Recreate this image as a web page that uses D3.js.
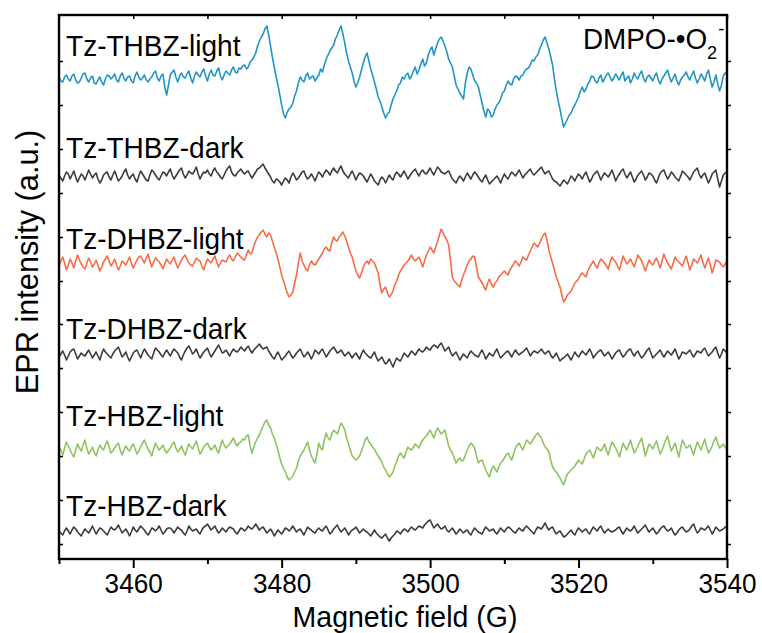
<!DOCTYPE html>
<html>
<head>
<meta charset="utf-8">
<script src="https://cdn.jsdelivr.net/npm/d3@7"></script>
<style>
  html, body { margin: 0; padding: 0; background: #fff; }
  svg { display: block; }
  text { font-family: "Liberation Sans", Arial, sans-serif; fill: #000; }
</style>
</head>
<body>
<div id="chart"></div>
<script>
// ---------------- DATA ----------------
const fieldStart = 3450, fieldStep = 0.25, nPoints = 361;
const xMajorTicks = [3460, 3480, 3500, 3520, 3540];
const xMinorTicks = [3450, 3470, 3490, 3510, 3530];
const xTopTicks = [3450, 3460, 3470, 3480, 3490, 3500, 3510, 3520, 3530, 3540];
const yTicks = [15, 59, 103, 147, 191, 235, 278, 322, 366, 410, 454, 498];

const seriesNames = ["Tz-THBZ-light", "Tz-THBZ-dark", "Tz-DHBZ-light", "Tz-DHBZ-dark", "Tz-HBZ-light", "Tz-HBZ-dark"];
const seriesColors = ["#2196c4", "#3c3c3c", "#f76c45", "#3c3c3c", "#8dc462", "#3c3c3c"];
const seriesOffsets = [480, 382, 294, 204, 107, 27];

const thbzLight = [
  2,-2,-3,2,4,0,-2,3,5,-1,-4,-3,1,5,6,0,-3,1,3,-4,
  -5,-1,2,-3,-6,0,4,3,0,2,5,-1,-3,3,6,1,-2,2,3,-2,
  -4,3,7,2,-1,1,4,-1,-3,0,2,6,8,1,-2,3,5,-8,-16,-6,
  4,7,9,2,-3,3,6,2,1,5,8,1,-4,3,7,4,2,7,10,3,
  -2,5,9,4,3,8,11,3,-1,4,8,6,4,9,12,7,6,11,10,13,
  14,10,12,17,19,22,26,33,38,42,45,50,53,44,33,22,12,2,-6,-16,
  -26,-35,-39,-33,-30,-28,-24,-17,-12,-4,2,-1,-3,3,6,0,2,3,-2,1,
  4,10,7,14,20,24,28,31,34,40,44,49,53,45,36,26,18,12,6,-2,
  -8,-4,2,9,16,22,26,18,10,4,-3,-10,-18,-22,-28,-34,-39,-35,-33,-26,
  -20,-16,-12,-6,-4,2,0,4,6,0,3,8,12,5,9,15,20,13,16,24,
  29,32,24,30,36,40,42,38,33,27,20,16,12,3,-6,-10,-14,-17,-20,-4,
  6,12,10,4,-2,-4,-8,-16,-24,-32,-38,-30,-32,-38,-36,-30,-26,-24,-20,-14,
  -12,-6,-2,-5,-6,0,3,2,-1,3,4,8,10,11,14,19,18,22,24,30,
  34,39,42,36,30,22,14,0,-12,-22,-30,-40,-48,-44,-40,-36,-34,-29,-26,-22,
  -18,-12,-8,-13,-10,-5,-2,3,2,-2,-4,1,4,-3,0,4,6,2,-2,1,
  5,2,-1,4,7,-2,1,3,-4,0,6,2,0,5,8,1,-3,2,4,1,
  -2,3,6,-1,-5,0,3,6,9,2,-3,1,5,-2,-6,-1,2,4,7,2,
  -1,4,8,1,-4,0,5,2,-2,5,9,0,-8,-3,4,-5,-12,-6,3,6,
  5
];
const thbzDark = [
  2,-1,-4,1,5,3,-2,2,6,0,-5,-1,3,1,-3,2,7,3,-1,2,
  4,-2,-6,-3,2,4,5,0,-3,2,6,1,-4,-2,1,5,8,2,-2,1,
  3,-2,-5,1,6,3,0,-3,-4,2,7,5,2,-1,-3,1,5,4,1,5,
  8,2,-2,1,4,7,9,3,-1,2,6,4,3,6,10,3,-2,2,5,4,
  7,3,1,6,9,5,3,0,-2,2,6,9,11,5,2,1,4,6,8,5,
  3,5,6,2,-1,2,5,8,9,11,13,9,6,3,0,-4,-6,-2,-3,-5,
  -8,-4,-1,-3,-6,0,4,1,-3,-1,2,5,6,1,-2,0,3,0,-4,1,
  5,3,0,4,7,5,2,6,9,6,4,8,11,6,3,1,-1,3,6,2,
  -3,1,4,3,1,-2,-5,-1,3,0,-4,-6,-8,-3,0,-2,-6,-2,2,-1,
  -3,2,5,3,0,3,6,2,-2,1,4,6,8,4,1,5,7,4,3,6,
  9,5,2,6,10,8,5,4,3,5,6,2,-2,-4,-6,-2,1,-1,-4,0,
  4,1,-2,2,5,3,0,-3,-5,-1,2,-3,-7,-5,-3,-1,1,-2,-6,-1,
  3,0,-2,2,5,3,1,4,7,3,-1,2,4,6,8,4,2,4,6,8,
  10,6,3,5,6,2,-2,-4,-5,-7,-9,-6,-3,-5,-7,-3,1,-1,-4,0,
  3,1,-2,2,5,0,-5,-2,2,4,6,2,-3,1,4,2,0,3,7,2,
  -4,0,3,6,8,3,-1,2,5,0,-5,-2,2,4,6,2,-3,0,4,3,
  1,-3,-6,-1,4,6,7,2,-2,1,5,3,0,-2,-4,1,6,4,2,0,
  -3,1,5,7,9,3,-1,2,4,-1,-6,-2,3,5,7,-2,-10,-4,2,4,
  5
];
const dhbzLight = [
  -2,4,8,2,-5,0,6,2,-3,4,10,5,1,-2,-4,2,7,3,-2,1,
  5,0,-6,-2,3,6,9,4,-1,2,6,0,-5,-1,4,2,0,4,8,2,
  -3,1,5,8,9,5,2,7,11,4,-2,3,7,5,3,0,-4,1,6,3,
  1,5,8,2,-3,1,5,8,10,6,2,0,-1,3,7,5,4,-1,-5,1,
  6,4,2,6,9,3,-2,2,5,4,3,7,10,6,4,8,12,10,8,6,
  5,10,15,11,12,19,24,28,30,33,35,31,28,32,30,24,18,12,6,-2,
  -10,-16,-22,-28,-32,-30,-27,-18,-10,2,12,4,0,-4,-6,0,4,1,0,3,
  6,9,12,16,18,15,14,22,28,25,24,28,30,33,29,24,18,12,8,1,
  -6,-10,-13,-8,-2,2,4,1,6,4,2,-3,-8,-20,-28,-24,-22,-28,-32,-30,
  -26,-20,-16,-10,-6,-3,0,2,4,7,10,6,4,6,8,3,-2,4,10,14,
  18,15,12,18,23,30,36,32,28,25,20,4,-12,-16,-18,-20,-22,-15,-10,-5,
  0,4,6,9,8,-2,-12,-15,-18,-22,-25,-18,-14,-19,-22,-18,-16,-12,-10,-8,
  -6,-8,-10,-5,-2,1,4,2,-1,3,8,6,5,10,14,18,22,20,18,22,
  26,30,32,25,15,8,2,-5,-12,-17,-22,-30,-37,-34,-30,-28,-26,-22,-18,-16,
  -14,-10,-8,-10,-12,-6,-2,1,4,0,-3,2,6,4,2,-1,-4,3,8,5,
  3,-1,-5,2,9,5,1,3,6,2,-2,4,10,7,4,-1,-6,0,5,2,
  0,4,7,2,-3,4,11,6,2,-1,-4,2,8,5,3,1,-1,4,9,2,
  -5,0,6,4,2,6,10,3,-3,2,7,0,-8,-2,5,4,3,0,-2,1,
  4
];
const dhbzDark = [
  -2,1,4,0,-5,-1,3,5,6,1,-4,-1,2,0,-1,2,5,1,-3,0,
  3,-1,-5,1,6,3,1,-1,-3,1,4,6,8,3,-2,0,3,-2,-6,-2,
  2,4,5,1,-3,2,6,3,0,-2,-4,2,7,5,3,0,-2,2,5,2,
  -1,3,6,4,2,-2,-5,0,4,7,9,5,1,3,6,1,-3,0,3,5,
  7,2,-2,1,4,7,10,6,2,3,5,2,-1,3,6,4,3,5,8,6,
  4,7,9,5,2,5,7,9,11,8,6,7,8,4,1,-2,-4,0,3,-1,
  -5,-3,-1,2,4,0,-3,-1,2,4,6,2,-2,0,3,0,-4,0,5,3,
  1,4,6,2,-2,1,4,6,8,5,2,3,5,2,-1,1,3,0,-3,0,
  2,-1,-4,1,5,2,0,-2,-3,0,3,-2,-6,-4,-2,-6,-9,-7,-4,-8,
  -12,-7,-3,-5,-6,-2,2,0,-2,1,4,2,0,3,6,4,3,5,8,6,
  5,8,10,9,7,10,12,8,4,6,8,3,-1,1,3,-1,-5,-2,1,-1,
  -3,1,4,2,0,-1,-2,2,5,1,-4,-1,2,0,-1,3,6,1,-3,-1,
  1,3,4,1,-2,2,5,2,0,2,3,5,7,3,-1,2,4,3,2,4,
  6,3,1,3,4,0,-3,-1,2,-2,-6,-4,-3,-1,1,-2,-5,-1,3,0,
  -2,1,4,2,0,3,6,2,-3,0,2,4,5,2,-1,1,3,0,-4,-1,
  2,4,5,1,-2,0,3,5,6,2,-1,2,4,0,-3,-1,2,5,7,2,
  -3,-1,1,3,5,1,-2,1,4,2,0,3,6,1,-4,-1,3,2,1,3,
  5,1,-2,1,4,3,2,5,7,3,-1,1,3,6,8,2,-3,1,6,4,
  2
];
const hbzLight = [
  6,2,-3,4,10,6,2,-2,-5,2,8,4,1,7,12,4,-2,1,5,0,
  -4,2,7,4,2,7,11,5,-1,1,4,7,9,2,-3,2,6,3,1,5,
  8,3,-2,1,5,9,12,7,3,0,-4,3,9,5,2,4,7,2,-1,2,
  4,8,10,4,0,2,6,1,-3,3,8,5,3,7,11,4,-2,1,5,7,
  9,5,2,4,7,2,-1,6,12,7,4,6,8,11,14,9,6,9,10,13,
  12,16,17,6,-1,5,10,14,17,22,26,30,32,27,24,18,14,8,2,-6,
  -12,-16,-20,-25,-28,-26,-24,-20,-16,-9,-4,-1,2,6,10,2,-4,-8,-11,-2,
  9,4,2,12,19,14,12,18,22,20,18,24,29,26,22,14,8,2,-4,-6,
  -8,-6,-4,1,6,12,15,10,8,5,3,-1,-4,-7,-10,-15,-18,-22,-25,-23,
  -20,-14,-10,-4,-1,-4,-6,0,5,3,2,5,8,6,4,9,12,14,16,19,
  22,18,14,20,24,21,18,20,22,14,6,2,-1,-6,-11,-8,-6,-9,-8,-3,
  2,6,9,7,4,-4,-11,-9,-8,-13,-18,-22,-25,-18,-14,-17,-20,-15,-11,-9,
  -6,-3,-1,-5,-8,-2,4,7,9,5,2,7,12,10,8,11,14,17,19,16,
  14,9,5,3,0,-8,-15,-18,-20,-23,-26,-30,-33,-27,-22,-20,-18,-16,-14,-11,
  -8,-10,-12,-7,-2,0,2,-2,-6,0,5,3,1,4,8,2,-3,4,10,7,
  4,0,-5,2,9,5,2,7,12,5,-1,2,6,10,14,5,-4,2,8,6,
  3,7,11,4,-2,2,7,12,16,8,1,5,9,2,-5,4,12,8,4,5,
  7,2,-3,4,10,6,2,8,13,5,-1,2,6,11,15,9,4,6,8,5,
  2
];
const hbzDark = [
  1,-1,-3,1,4,1,-2,2,5,3,0,-2,-4,0,3,1,-1,2,6,2,
  -2,1,4,3,1,-1,-3,1,5,3,2,4,7,3,-1,1,3,0,-4,0,
  5,2,0,3,6,4,2,-1,-3,0,4,3,1,3,6,2,-2,0,3,4,
  4,2,-1,2,5,3,2,-1,-3,1,6,3,1,2,3,0,-2,2,5,6,
  8,5,2,4,6,2,-1,1,4,2,0,3,5,4,3,0,-2,1,4,3,
  1,3,6,4,3,5,8,5,2,4,5,2,-1,1,3,0,-4,-1,2,0,
  -2,1,4,3,1,3,6,3,0,2,3,0,-3,1,5,3,2,0,-1,2,
  4,2,1,4,6,2,-2,0,3,5,7,3,0,2,4,1,-3,0,2,3,
  5,2,-1,1,3,1,0,-2,-4,-1,2,-1,-3,-5,-6,-4,-2,-6,-9,-6,
  -4,-2,1,0,-2,1,3,2,0,3,5,3,2,4,6,5,4,7,9,11,
  12,8,4,6,8,5,3,4,6,2,0,2,4,1,-2,0,3,1,-1,1,
  2,-1,-3,1,4,2,0,-1,-2,2,5,3,1,2,3,0,-2,1,4,2,
  0,3,5,4,2,0,-1,2,4,2,1,4,6,4,2,0,-2,2,5,4,
  3,6,9,5,2,4,5,1,-2,0,1,-2,-5,-4,-2,0,2,-1,-3,1,
  4,2,0,2,3,0,-2,2,5,3,1,4,6,2,-1,1,3,1,0,1,
  2,4,5,1,-2,1,4,2,1,3,6,2,-1,1,3,5,7,3,0,2,
  4,1,-2,0,3,5,6,3,1,2,4,0,-3,-1,2,4,5,2,0,1,
  3,6,8,3,-1,1,4,3,2,4,6,2,-2,1,5,3,1,2,3,5,
  4
];
const seriesValues = [thbzLight, thbzDark, dhbzLight, dhbzDark, hbzLight, hbzDark];
const fields = d3.range(nPoints).map(i => fieldStart + i * fieldStep);

// ---------------- LAYOUT ----------------
const W = 762, H = 633;
const L = 59, R = 727, T = 15, B = 559;

const svg = d3.select("#chart").append("svg")
  .attr("width", W).attr("height", H);
svg.append("rect").attr("width", W).attr("height", H).attr("fill", "#fff");

const x = d3.scaleLinear().domain([3450, 3540]).range([L, R]);
const y = d3.scaleLinear().domain([0, 544]).range([B, T]);

// traces
const line = d3.line().x(d => x(d[0])).y(d => y(d[1]));
seriesValues.forEach((vals, k) => {
  const pts = vals.map((v, i) => [fields[i], v + seriesOffsets[k]]);
  svg.append("path")
    .attr("d", line(pts))
    .attr("fill", "none")
    .attr("stroke", seriesColors[k])
    .attr("stroke-width", 1.6)
    .attr("stroke-linejoin", "round");
});

// bottom axis: major + minor outward ticks
const gxMajor = svg.append("g").attr("transform", `translate(0,${B})`)
  .call(d3.axisBottom(x).tickValues(xMajorTicks).tickSize(9).tickPadding(6).tickFormat(d3.format("d")));
gxMajor.select(".domain").remove();
gxMajor.selectAll("line").attr("stroke", "#000").attr("stroke-width", 2);
gxMajor.selectAll("text")
  .attr("font-size", 27).attr("font-family", "Liberation Sans, Arial, sans-serif")
  .attr("fill", "#000").attr("transform", "scale(0.97,1)");

const gxMinor = svg.append("g").attr("transform", `translate(0,${B})`)
  .call(d3.axisBottom(x).tickValues(xMinorTicks).tickSize(5).tickFormat(""));
gxMinor.select(".domain").remove();
gxMinor.selectAll("line").attr("stroke", "#000").attr("stroke-width", 2);

// top axis: inward ticks
const gxTop = svg.append("g").attr("transform", `translate(0,${T})`)
  .call(d3.axisBottom(x).tickValues(xTopTicks).tickSize(4).tickFormat(""));
gxTop.select(".domain").remove();
gxTop.selectAll("line").attr("stroke", "#000").attr("stroke-width", 1.5);

// left axis: inward ticks
const gyL = svg.append("g").attr("transform", `translate(${L},0)`)
  .call(d3.axisRight(y).tickValues(yTicks).tickSize(4).tickFormat(""));
gyL.select(".domain").remove();
gyL.selectAll("line").attr("stroke", "#000").attr("stroke-width", 1.5);

// right axis: outward ticks
const gyR = svg.append("g").attr("transform", `translate(${R},0)`)
  .call(d3.axisRight(y).tickValues(yTicks).tickSize(4).tickFormat(""));
gyR.select(".domain").remove();
gyR.selectAll("line").attr("stroke", "#000").attr("stroke-width", 1.5);

// frame
svg.append("rect")
  .attr("x", L).attr("y", T).attr("width", R - L).attr("height", B - T)
  .attr("fill", "none").attr("stroke", "#000").attr("stroke-width", 2.4);

// series labels
const labelBaselines = [56, 158, 249, 339, 426, 516];
seriesNames.forEach((name, k) => {
  svg.append("text")
    .attr("transform", `translate(66,${labelBaselines[k]}) scale(0.935,1)`)
    .attr("font-size", 30)
    .text(name);
});

// DMPO label
const dm = svg.append("text")
  .attr("transform", "translate(583,49) scale(0.96,1)")
  .attr("font-size", 29);
dm.append("tspan").text("DMPO-•O");
dm.append("tspan").attr("font-size", 19).attr("dy", 10).text("2");
dm.append("tspan").attr("font-size", 19).attr("dy", -24).attr("dx", 1).text("-");

// axis titles
svg.append("text")
  .attr("transform", "translate(405,627) scale(0.95,1)")
  .attr("text-anchor", "middle")
  .attr("font-size", 30)
  .text("Magnetic field (G)");

svg.append("text")
  .attr("transform", "translate(38,262) rotate(-90) scale(0.96,1)")
  .attr("text-anchor", "middle")
  .attr("font-size", 32)
  .text("EPR intensity (a.u.)");
</script>
</body>
</html>
